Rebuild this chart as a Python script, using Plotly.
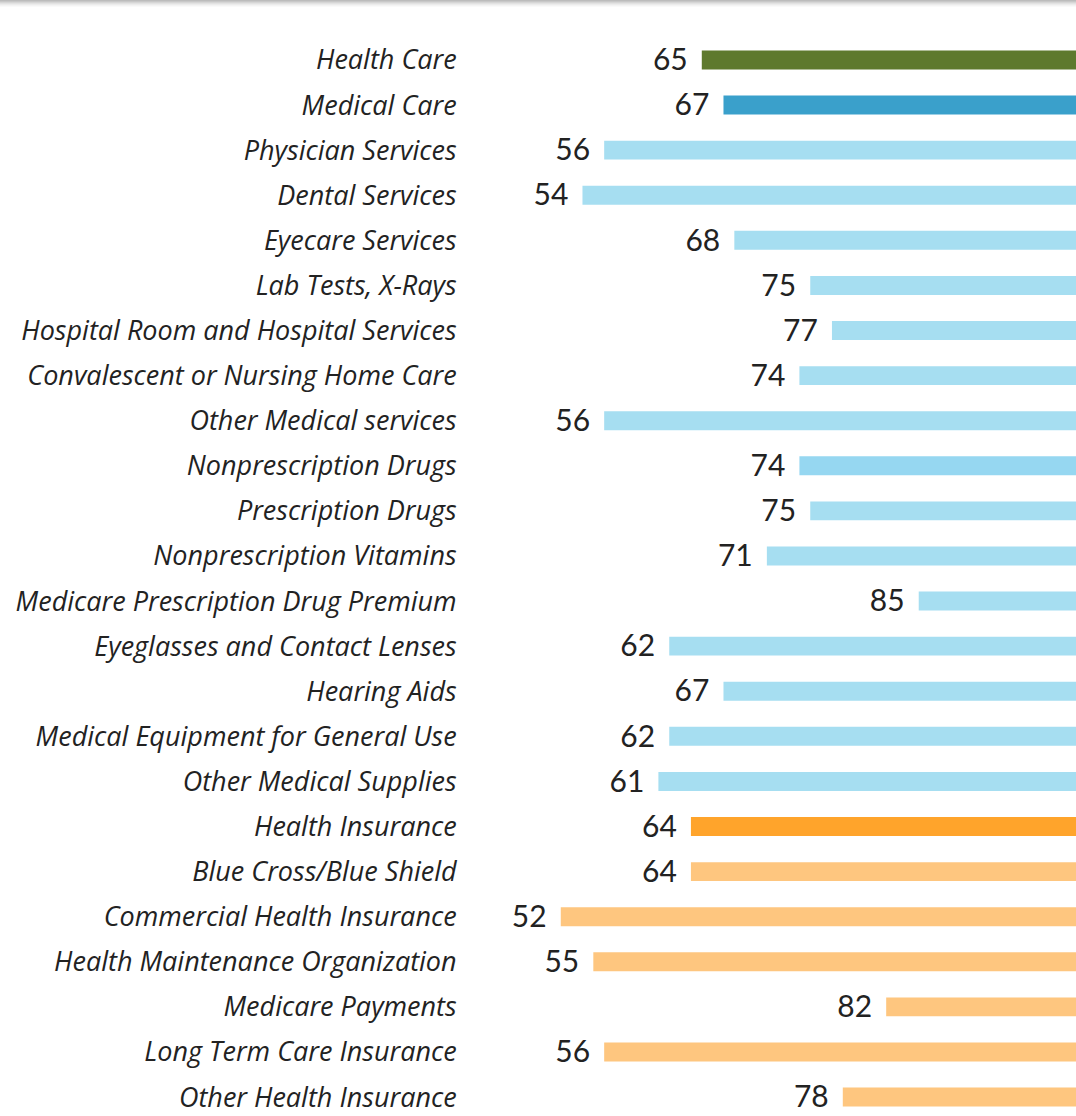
import plotly.graph_objects as go

# Categories, top to bottom
categories = [
    "Health Care", "Medical Care", "Physician Services", "Dental Services",
    "Eyecare Services", "Lab Tests, X-Rays", "Hospital Room and Hospital Services",
    "Convalescent or Nursing Home Care", "Other Medical services",
    "Nonprescription Drugs", "Prescription Drugs", "Nonprescription Vitamins",
    "Medicare Prescription Drug Premium", "Eyeglasses and Contact Lenses",
    "Hearing Aids", "Medical Equipment for General Use", "Other Medical Supplies",
    "Health Insurance", "Blue Cross/Blue Shield", "Commercial Health Insurance",
    "Health Maintenance Organization", "Medicare Payments",
    "Long Term Care Insurance", "Other Health Insurance",
]
values = [65, 67, 56, 54, 68, 75, 77, 74, 56, 74, 75, 71, 85, 62, 67, 62, 61,
          64, 64, 52, 55, 82, 56, 78]
colors = (["#5E792D", "#3AA0CB"] + ["#A6DEF1"] * 7 + ["#96D7F1"] + ["#A6DEF1"] * 7
          + ["#FFA42B"] + ["#FEC67F"] * 6)

pos = list(range(len(categories)))
text_pos = [p + 0.06 for p in pos]  # nudge text down to sit centred on the bars

fig = go.Figure()

# bars run from the value out to 100
fig.add_trace(go.Bar(
    y=pos, x=[100 - v for v in values], base=values, orientation="h",
    marker=dict(color=colors, line=dict(width=0)), width=0.42,
    hoverinfo="skip",
))

# value labels just left of each bar
fig.add_trace(go.Scatter(
    y=text_pos, x=[v - 1.3 for v in values], mode="text",
    text=[str(v) for v in values], textposition="middle left",
    textfont=dict(family="Lato", size=30, color="#222222"),
    hoverinfo="skip",
))

# category labels
fig.add_trace(go.Scatter(
    y=text_pos, x=[42.4] * len(pos), mode="text",
    text=["<i>%s</i>" % c for c in categories], textposition="middle left",
    textfont=dict(family="Open Sans", size=27, color="#222222"),
    hoverinfo="skip",
))

# grey shadow along the top
shades = ["#bcbcbc", "#c8c8c8", "#d6d6d6", "#e2e2e2", "#ececec", "#f4f4f4", "#fafafa"]
for i, c in enumerate(shades):
    fig.add_shape(type="rect", xref="paper", yref="paper",
                  x0=0, x1=1, y0=1 - (i + 1) / 1116, y1=1 - i / 1116,
                  fillcolor=c, line=dict(width=0), layer="above")

fig.update_layout(
    width=1076, height=1116,
    margin=dict(l=0, r=0, t=0, b=0),
    plot_bgcolor="white", paper_bgcolor="white",
    showlegend=False,
    xaxis=dict(range=[0.3, 99.5], visible=False),
    yaxis=dict(range=[23.42, -1.33], visible=False),
)

fig.write_html("out.html", config={"displayModeBar": False},
               post_script="document.body.style.margin='0';document.body.style.overflow='hidden';")
